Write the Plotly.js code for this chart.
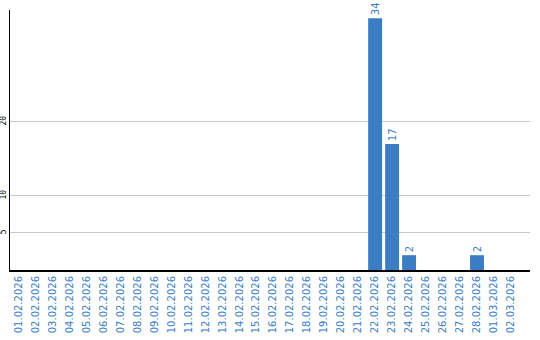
<!DOCTYPE html>
<html><head><meta charset="utf-8">
<script src="https://cdn.plot.ly/plotly-3.0.1.min.js"></script>
<style>body{margin:0;padding:0;background:#fff}#c{width:540px;height:340px}</style>
</head><body><div id="c"></div>
<script>
var categories = ["01.02.2026","02.02.2026","03.02.2026","04.02.2026","05.02.2026","06.02.2026","07.02.2026","08.02.2026","09.02.2026","10.02.2026","11.02.2026","12.02.2026","13.02.2026","14.02.2026","15.02.2026","16.02.2026","17.02.2026","18.02.2026","19.02.2026","20.02.2026","21.02.2026","22.02.2026","23.02.2026","24.02.2026","25.02.2026","26.02.2026","27.02.2026","28.02.2026","01.03.2026","02.03.2026"];
var values = [0,0,0,0,0,0,0,0,0,0,0,0,0,0,0,0,0,0,0,0,0,34,17,2,0,0,0,2,0,0];
var yTicks = [5,10,20];
var blue = "#3a7dc2";
var labels = values.map(function(v){return v>0?String(v):"";});
Plotly.newPlot("c",[{
  type:"bar", x:categories.map(function(c,i){return i;}), y:values,
  marker:{color:blue}, text:labels, textposition:"outside", textangle:-90,
  textfont:{family:"DejaVu Sans", size:10, color:blue}, cliponaxis:false,
  hoverinfo:"none"
}],{
  width:540, height:340, margin:{l:10,r:10,t:10,b:70},
  paper_bgcolor:"#fff", plot_bgcolor:"#fff", bargap:0.18, showlegend:false,
  xaxis:{tickmode:"array", tickvals:categories.map(function(c,i){return i;}), ticktext:categories,
    range:[-0.5,30.12], tickangle:-90, tickfont:{family:"DejaVu Sans", size:10, color:blue},
    showgrid:false, zeroline:false, showline:true, linecolor:"#000", linewidth:2, ticks:"", fixedrange:true},
  yaxis:{tickmode:"array", tickvals:yTicks, range:[0,35.1], tickangle:-90,
    tickfont:{family:"DejaVu Sans Mono", size:8, color:"#000"}, showgrid:true, gridcolor:"#c8c8c8",
    zeroline:false, showline:true, linecolor:"#000", linewidth:1, ticks:"", fixedrange:true}
},{staticPlot:true});
</script></body></html>
